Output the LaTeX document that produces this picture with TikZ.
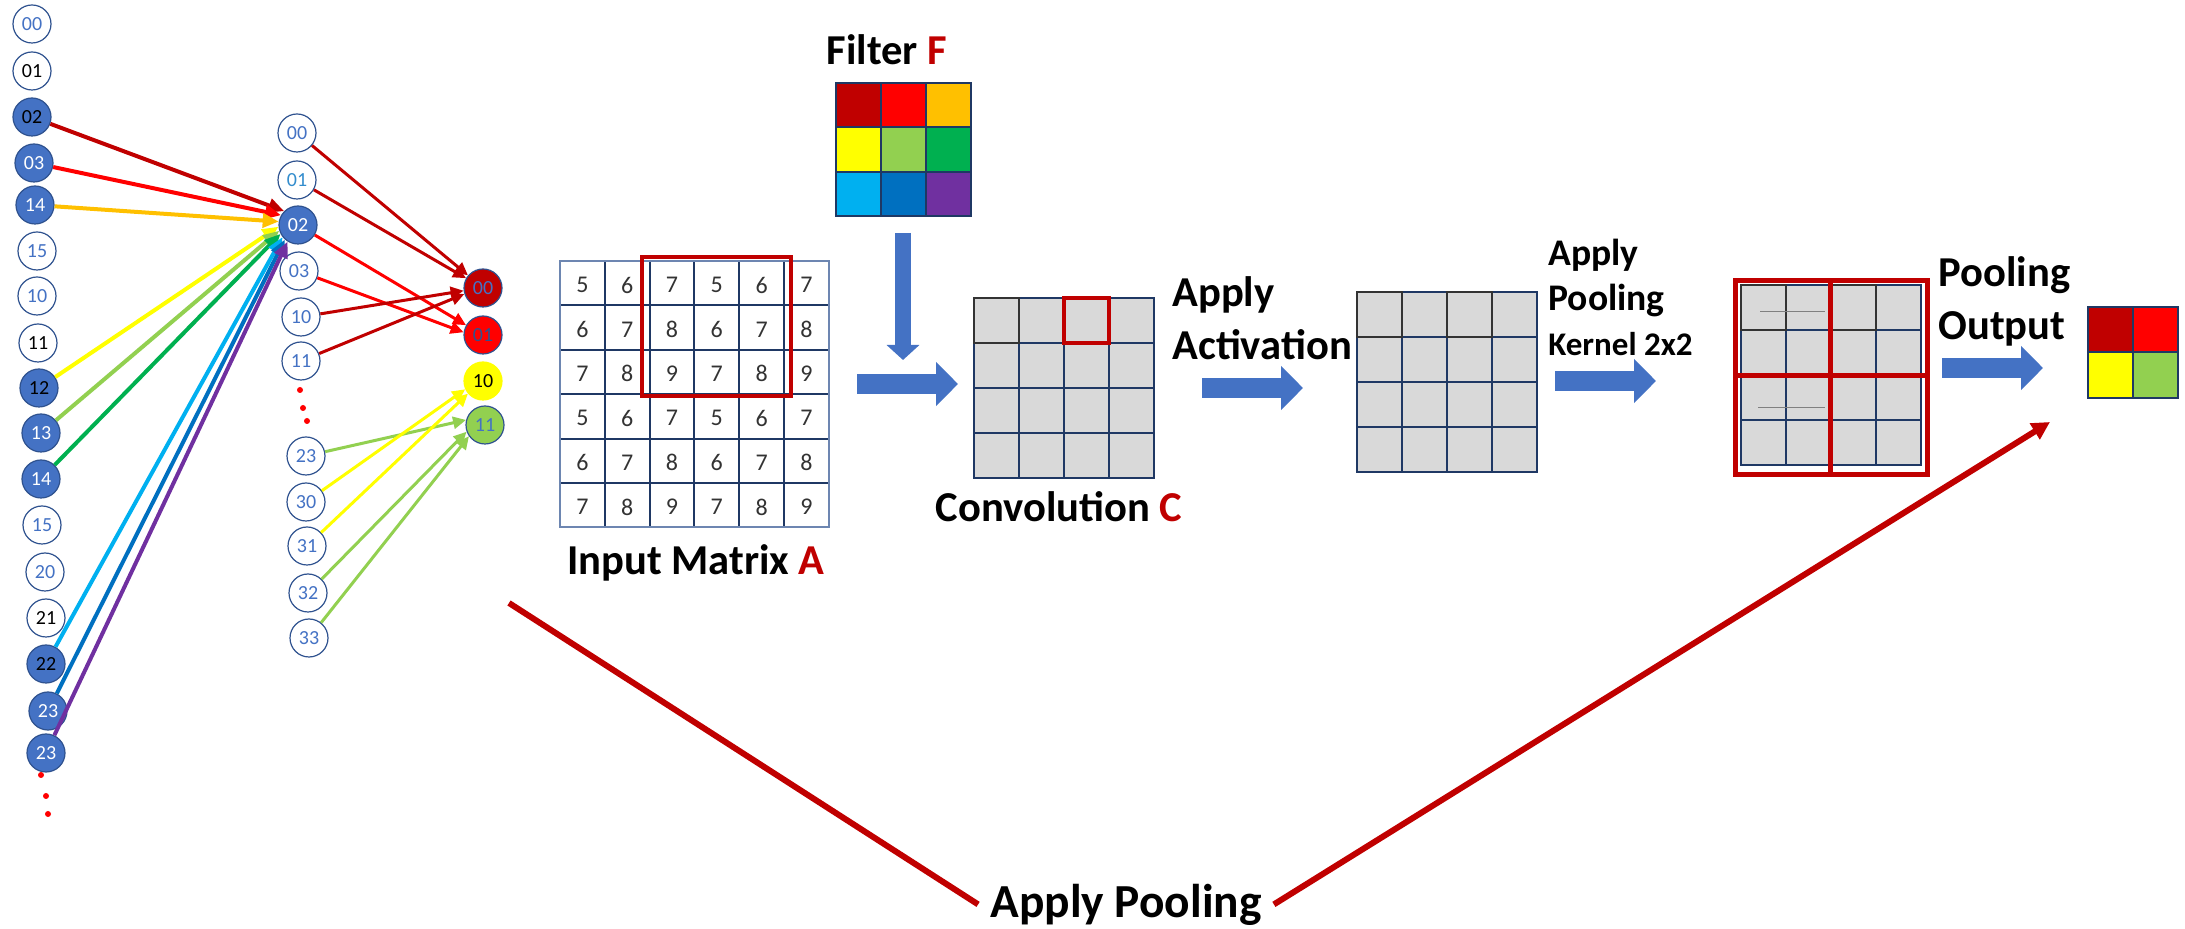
\documentclass[tikz,border=0pt]{standalone}
\usepackage{fontspec}
\setmainfont{Carlito}
\usetikzlibrary{arrows.meta}

\definecolor{nodeblue}{HTML}{4472C4}
\definecolor{nodeline}{HTML}{2F528F}
\definecolor{gridline}{HTML}{1F3864}
\definecolor{cellgray}{HTML}{D9D9D9}
\definecolor{darkred}{HTML}{C00000}
\definecolor{fred}{HTML}{FF0000}
\definecolor{forange}{HTML}{FFC000}
\definecolor{fyellow}{HTML}{FFFF00}
\definecolor{flime}{HTML}{92D050}
\definecolor{fgreen}{HTML}{00B050}
\definecolor{fsky}{HTML}{00B0F0}
\definecolor{fblue}{HTML}{0070C0}
\definecolor{fpurple}{HTML}{7030A0}

\begin{document}
\begin{tikzpicture}
        [x=0.5pt, y=-0.5pt,
        unit/.style={draw=nodeline, circle, fill=white, line width=0.6pt, inner sep=0, minimum size=19pt, font=\fontsize{10}{12}\selectfont, text=nodeblue},
        hit/.style={unit, fill=nodeblue, text=white},
        dot/.style={circle, fill=red, inner sep=0, minimum size=3pt},
        wire/.style={line width=2pt, -{Triangle[length=8pt,width=7pt]}},
        link/.style={line width=1.5pt, -{Triangle[length=6.5pt,width=6pt]}},
        mcell/.style={draw=gridline, line width=1pt},
        gcell/.style={draw=gridline, fill=cellgray, line width=1pt},
        digit/.style={font=\fontsize{12}{14}\selectfont, text=black!80},
        title/.style={font=\fontsize{21.3}{26.5}\selectfont\bfseries, align=left, inner sep=0},
        blockarrow/.style={nodeblue, line width=10pt, -{Triangle[length=11pt,width=21.5pt]}},
        poolline/.style={darkred, line width=3pt}]

        \useasboundingbox (0,0) rectangle (2185,929);

        % first layer
        \node[unit] (x1) at (32, 24) {00};
        \node[unit, text=black] (x2) at (32, 71) {01};
        \node[hit, text=black] (x3) at (32, 117) {02};
        \node[hit] (x4) at (34, 163) {03};
        \node[hit] (x5) at (35, 205) {14};
        \node[unit] (x6) at (37, 251) {15};
        \node[unit] (x7) at (37, 296) {10};
        \node[unit, text=black] (x8) at (38, 343) {11};
        \node[hit, text=black] (x9) at (39, 388) {12};
        \node[hit] (x10) at (41, 433) {13};
        \node[hit] (x11) at (41, 479) {14};
        \node[unit] (x12) at (42, 525) {15};
        \node[unit] (x13) at (45, 572) {20};
        \node[unit, text=black] (x14) at (46, 618) {21};
        \node[hit, text=black] (x15) at (46, 664) {22};
        \node[hit] (x16) at (48, 711) {23};
        \node[hit] (x17) at (46, 753) {23};
        \node[dot] (d1) at (41, 775) {};
        \node[dot] (d2) at (46, 796) {};
        \node[dot] (d3) at (48, 814) {};

        % second layer
        \node[unit] (h1) at (297, 133) {00};
        \node[unit, text=fblue!80] (h2) at (297, 180) {01};
        \node[hit] (h3) at (298, 225) {02};
        \node[unit] (h4) at (299, 271) {03};
        \node[unit] (h5) at (301, 317) {10};
        \node[unit] (h6) at (301, 361) {11};
        \node[dot] (d4) at (300, 390) {};
        \node[dot] (d5) at (303, 408) {};
        \node[dot] (d6) at (307, 421) {};
        \node[unit] (h7) at (306, 456) {23};
        \node[unit] (h8) at (306, 502) {30};
        \node[unit] (h9) at (307, 546) {31};
        \node[unit] (h10) at (308, 593) {32};
        \node[unit] (h11) at (309, 638) {33};

        % pooled layer
        \node[unit, fill=darkred] (y1) at (483, 288) {00};
        \node[unit, fill=fred, text=nodeline] (y2) at (483, 335) {01};
        \node[unit, draw=fyellow, fill=fyellow, text=black] (y3) at (483, 381) {10};
        \node[unit, fill=flime] (y4) at (485, 425) {11};

        \draw[wire, darkred] (x3) -- (h3.135);
        \draw[wire, fred] (x4) -- (h3.150);
        \draw[wire, forange] (x5) -- (h3.170);
        \draw[wire, fyellow] (x9) -- (h3.185);
        \draw[wire, flime] (x10) -- (h3.197);
        \draw[wire, fgreen] (x11) -- (h3.207);
        \draw[wire, fsky] (x15) -- (h3.218);
        \draw[wire, fblue] (x16) -- (h3.228);
        \draw[wire, fpurple] (x17) -- (h3.238);

        \draw[link, darkred] (h1) -- (y1.140);
        \draw[link, darkred] (h2) -- (y1.150);
        \draw[link, fred] (h3) -- (y2.150);
        \draw[link, fred] (h4) -- (y2.172);
        \draw[link, darkred] (h5) -- (y1.188);
        \draw[link, darkred] (h6) -- (y1.198);
        \draw[link, flime] (h7) -- (y4.165);
        \draw[link, fyellow] (h8) -- (y3.205);
        \draw[link, fyellow] (h9) -- (y3.220);
        \draw[link, flime] (h10) -- (y4.200);
        \draw[link, flime] (h11) -- (y4.215);

        % input matrix A
        \foreach \r/\row in {0/{5,6,7,5,6,7}, 1/{6,7,8,6,7,8}, 2/{7,8,9,7,8,9}, 3/{5,6,7,5,6,7}, 4/{6,7,8,6,7,8}, 5/{7,8,9,7,8,9}}
          \foreach \v [count=\c from 0] in \row {
            \draw[mcell] ({560+44.8*\c}, {261+44.4*\r}) rectangle +(44.8, 44.4);
            \node[digit] (a\r\c) at ({582.4+44.8*\c}, {285+44.4*\r}) {\v};
          }
        \draw[nodeline!70, line width=0.8pt] (560, 261) rectangle (829, 527);
        \draw[darkred, line width=2.2pt] (642, 257) rectangle (791, 396);
        \node[title, anchor=base] (lblA) at (696, 575) {Input Matrix \textcolor{darkred}{A}};

        % filter F
        \foreach \c/\r/\col in {0/0/darkred, 1/0/fred, 2/0/forange, 0/1/fyellow, 1/1/flime, 2/1/fgreen, 0/2/fsky, 1/2/fblue, 2/2/fpurple}
          \draw[mcell, fill=\col] ({836+45*\c}, {83+44.3*\r}) rectangle +(45, 44.3);
        \node[title, anchor=base] (lblF) at (887, 65) {Filter \textcolor{darkred}{F}};

        % convolution C
        \foreach \r in {0,...,3}
          \foreach \c in {0,...,3}
            \draw[gcell] ({974+45*\c}, {298+45*\r}) rectangle +(45, 45);
        \draw[black!80, line width=1pt] (974, 298) rectangle (1019, 343);
        \draw[darkred, line width=2pt] (1064, 298) rectangle (1109, 343);
        \node[title, anchor=base] (lblC) at (1059, 522) {Convolution \textcolor{darkred}{C}};

        % after activation
        \foreach \r in {0,...,3}
          \foreach \c in {0,...,3}
            \draw[gcell] ({1357+45*\c}, {292+45*\r}) rectangle +(45, 45);
        \draw[black!80, line width=1pt] (1357, 292) rectangle (1402, 337);
        \draw[black!80, line width=1pt] (1447, 292) rectangle (1492, 337);
        \node[title, anchor=north west] (lblAct) at (1172, 276) {Apply\\Activation};

        % pooling windows
        \foreach \r in {0,...,3}
          \foreach \c in {0,...,3}
            \draw[gcell] ({1741+45*\c}, {285+45*\r}) rectangle +(45, 45);
        \draw[black!80, line width=1pt] (1741, 285) rectangle (1786, 330);
        \draw[black!80, line width=1pt] (1831, 285) rectangle (1876, 330);
        \draw[gray, line width=0.5pt] (1760, 312) -- (1825, 312);
        \draw[gray, line width=0.5pt] (1758, 408) -- (1825, 408);
        \draw[darkred, line width=2.5pt] (1735, 281) rectangle (1927, 475);
        \draw[darkred, line width=2.5pt] (1830, 281) -- (1830, 475);
        \draw[darkred, line width=2.5pt] (1735, 376) -- (1927, 376);
        \node[title, font=\fontsize{18.8}{22.5}\selectfont\bfseries, anchor=north west] (lblKer) at (1548, 239)
          {Apply\\Pooling\\{\fontsize{16.5}{21}\selectfont Kernel 2x2}};

        % pooling output
        \foreach \c/\r/\col in {0/0/darkred, 1/0/fred, 0/1/fyellow, 1/1/flime}
          \draw[mcell, fill=\col] ({2088+45*\c}, {307+45.5*\r}) rectangle +(45, 45.5);
        \node[title, anchor=north west] (lblOut) at (1938, 256) {Pooling\\Output};

        % block arrows
        \coordinate (fdown1) at (903, 233);
        \coordinate (fdown2) at (903, 360);
        \coordinate (conv1) at (857, 384);
        \coordinate (conv2) at (958, 384);
        \coordinate (act1) at (1202, 388);
        \coordinate (act2) at (1303, 388);
        \coordinate (ker1) at (1555, 381);
        \coordinate (ker2) at (1656, 381);
        \coordinate (out1) at (1942, 368);
        \coordinate (out2) at (2043, 368);
        \draw[blockarrow, line width=8pt, -{Triangle[length=7.5pt,width=16pt]}] (fdown1) -- (fdown2);
        \draw[blockarrow] (conv1) -- (conv2);
        \draw[blockarrow] (act1) -- (act2);
        \draw[blockarrow] (ker1) -- (ker2);
        \draw[blockarrow] (out1) -- (out2);

        % the long way round
        \node[title, font=\fontsize{23.7}{28}\selectfont\bfseries, inner sep=6pt, anchor=base] (applypool) at (1126, 917) {Apply Pooling};
        \coordinate (vtop) at (509, 603);
        \coordinate (vtip) at (2050, 422);
        \draw[poolline] (vtop) -- (applypool.west);
        \draw[poolline, -{Triangle[length=9pt,width=9pt]}] (applypool.east) -- (vtip);

      \end{tikzpicture}
\end{document}
